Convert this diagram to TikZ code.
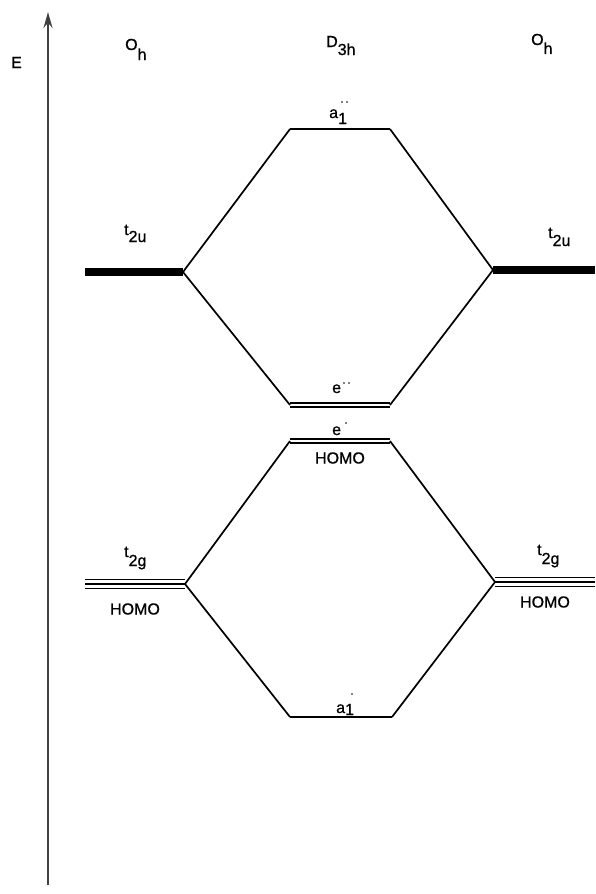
\documentclass[tikz,border=0pt]{standalone}
\usepackage{fontspec}
\setmainfont{Liberation Sans}
\newfontfamily\labfont{Liberation Sans}[FakeBold=0.8]
\usetikzlibrary{arrows.meta}
\begin{document}
\begin{tikzpicture}[x=1pt,y=-1pt,
  conn/.style={line width=1.7pt},
  lev/.style={line width=2.6pt},
  thin lev/.style={line width=1.7pt},
  lab/.style={anchor=base west, inner sep=0pt, font=\labfont\fontsize{16}{16}\selectfont},
  clab/.style={inner sep=0pt, font=\labfont\fontsize{16}{16}\selectfont},
  dotmark/.style={fill=black}]
\useasboundingbox (0,0) rectangle (595,894);
% energy axis
\coordinate (axb) at (48,885);
\coordinate (axt) at (48,12);
\draw[-{Stealth[length=16pt,width=9pt]}, line width=1.5pt, black!75] (axb) -- (axt);
\node[lab] (E) at (11,68) {E};
% headings
\node[lab] (ohL) at (125,50) {O\raisebox{-10pt}{h}};
\node[lab] (d3h) at (326,47) {D\raisebox{-8pt}{3h}};
\node[lab] (ohR) at (531,45) {O\raisebox{-9pt}{h}};
% level end points
\coordinate (t2uLa) at (85,272);  \coordinate (t2uLb) at (183,272);
\coordinate (t2uRa) at (493,270); \coordinate (t2uRb) at (595,270);
\coordinate (a1ppL) at (290,129); \coordinate (a1ppR) at (390,129);
\coordinate (eppL) at (290,405);  \coordinate (eppR) at (390,405);
\coordinate (epL) at (290,441);   \coordinate (epR) at (390,441);
\coordinate (t2gLa) at (85,584);  \coordinate (t2gLb) at (185,584);
\coordinate (t2gRa) at (495,582); \coordinate (t2gRb) at (595,582);
\coordinate (a1pL) at (290,717);  \coordinate (a1pR) at (392,717);
% levels
\foreach \d in {-2.6,0,2.6} {
  \draw[lev] ([yshift=\d pt]t2uLa) -- ([yshift=\d pt]t2uLb);
  \draw[lev] ([yshift=\d pt]t2uRa) -- ([yshift=\d pt]t2uRb);
}
\foreach \d in {-4.5,0,4.5} {
  \draw[thin lev] ([yshift=\d pt]t2gLa) -- ([yshift=\d pt]t2gLb);
  \draw[thin lev] ([yshift=\d pt]t2gRa) -- ([yshift=\d pt]t2gRb);
}
\foreach \d in {-1.8,1.8} {
  \draw[thin lev] ([yshift=\d pt]eppL) -- ([yshift=\d pt]eppR);
  \draw[thin lev] ([yshift=\d pt]epL) -- ([yshift=\d pt]epR);
}
\draw[lev, line width=2pt] (a1ppL) -- (a1ppR);
\draw[lev, line width=2pt] (a1pL) -- (a1pR);
% connectors
\draw[conn] (t2uLb) -- (a1ppL);
\draw[conn] (a1ppR) -- (t2uRa);
\draw[conn] (t2uLb) -- (eppL);
\draw[conn] (eppR) -- (t2uRa);
\draw[conn] (t2gLb) -- (epL);
\draw[conn] (epR) -- (t2gRa);
\draw[conn] (t2gLb) -- (a1pL);
\draw[conn] (a1pR) -- (t2gRa);
% labels
\node[lab] (lt2uL) at (124,235) {t\raisebox{-7pt}{2u}};
\node[lab] (lt2uR) at (548,238) {t\raisebox{-8pt}{2u}};
\node[lab] (la1pp) at (329,118) {a\raisebox{-6pt}{1}};
\fill[dotmark] (342,102) circle (0.9) (347,102) circle (0.9);
\node[lab] (lepp) at (332,393) {e};
\fill[dotmark] (344,383) circle (0.9) (349,383) circle (0.9);
\node[lab] (lep) at (332,435) {e};
\fill[dotmark] (346,423) circle (0.9);
\node[clab] (homoM) at (340,458) {HOMO};
\node[lab] (lt2gL) at (124,557) {t\raisebox{-9pt}{2g}};
\node[clab] (homoL) at (135,609) {HOMO};
\node[lab] (lt2gR) at (537,555) {t\raisebox{-9pt}{2g}};
\node[clab] (homoR) at (545,602) {HOMO};
\node[lab] (la1p) at (336,713) {a\raisebox{-2pt}{1}};
\fill[dotmark] (352,694) circle (0.9);
\end{tikzpicture}
\end{document}
